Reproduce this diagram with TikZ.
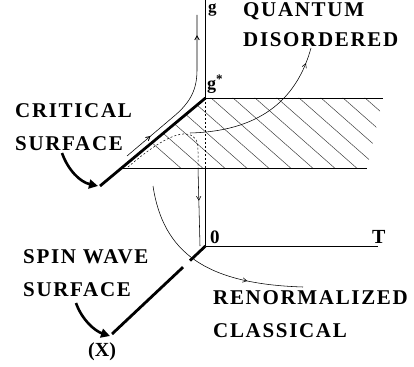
\documentclass[tikz,border=0pt]{standalone}
\usepackage{fontspec}
\setmainfont{Liberation Serif}
\newfontfamily\labfont{Liberation Serif}[LetterSpace=8]
\usetikzlibrary{arrows.meta,decorations.markings}
\tikzset{
  lab/.style={font=\labfont\bfseries\fontsize{21}{21}\selectfont, anchor=base west, inner sep=0pt},
  sym/.style={font=\bfseries\fontsize{#1}{#1}\selectfont, anchor=base west, inner sep=0pt},
  axisline/.style={line width=0.9pt},
  thickline/.style={line width=2.8pt},
  flow/.style={line width=0.55pt},
  hatchline/.style={line width=0.5pt, black!75},
  hidden/.style={line width=0.5pt, dash pattern=on 2pt off 2pt},
  bigarrow/.style={line width=2.6pt, -{Triangle[length=9pt,width=9pt]}},
  midarrow/.style={postaction={decorate}, decoration={markings,
      mark=at position #1 with {\arrow{Straight Barb[length=4pt,width=4.5pt]}}}}
}
\begin{document}
\begin{tikzpicture}[x=1pt,y=-1pt]
\useasboundingbox (0,0) rectangle (414,366);
% key points
\coordinate (gtop) at (205.5,0);
\coordinate (O) at (205.5,246);
\coordinate (Tend) at (378,246);
\coordinate (gs) at (205.5,98);
\coordinate (topR) at (383,98);
\coordinate (botR) at (367,168);
\coordinate (botL) at (121.6,168);
\coordinate (gmid) at (205.5,168);
\coordinate (C1) at (100,186);
\coordinate (Xend) at (112,334);
\coordinate (gapA) at (190,260.6);
\coordinate (gapB) at (183,267.2);
% hatching
\begin{scope}
  \clip (gs) -- (topR) -- (botR) -- (botL) -- cycle;
  \foreach \x in {92,114,...,400} {
    \draw[hatchline] (\x,90) -- ++(110,96.8);
  }
\end{scope}
\draw[axisline] (gs) -- (topR);
\draw[axisline] (botL) -- (botR);
% g axis
\draw[axisline] (gtop) -- (gs);
\draw[hidden] (gs) -- (gmid);
\draw[axisline] (gmid) -- (O);
\draw[axisline] (O) -- (Tend);
% thick lines
\draw[thickline] (gs) -- (C1);
\draw[thickline] (O) -- (gapA);
\draw[thickline] (gapB) -- (Xend);
% dashed flow + down flow
\coordinate (d0) at (128,167);
\coordinate (d1) at (198,168);
\coordinate (d2) at (200,246);
\draw[hidden] (d0) .. controls (150,148) and (172,133) .. (186,134)
   .. controls (196,135) and (198,141) .. (198,152) -- (d1);
\draw[flow, midarrow=0.42] (d1) -- (d2);
% up flow along critical line
\coordinate (u0) at (127,156);
\coordinate (u1) at (197,15);
\draw[flow, midarrow=0.18, midarrow=0.88] (u0) -- (176,114.5) .. controls (190,102) and (197,90) .. (197,70) -- (u1);
% quantum disordered flow
\coordinate (q0) at (190,133);
\coordinate (q1) at (311,48);
\draw[flow, midarrow=0.9] (q0) .. controls (265,131) and (298,95) .. (q1);
% renormalized classical flow
\coordinate (r0) at (153,186);
\coordinate (r1) at (303,287);
\draw[flow, midarrow=0.72] (r0) .. controls (163,252) and (205,284) .. (r1);
% big curved arrows
\coordinate (a0) at (62,153);
\coordinate (a1) at (98,186);
\draw[bigarrow] (a0) .. controls (68,170) and (80,182) .. (a1);
\coordinate (b0) at (76,303);
\coordinate (b1) at (110,336);
\draw[bigarrow] (b0) .. controls (82,320) and (95,331) .. (b1);
% labels
\node[sym=17, text height=8pt, text depth=4pt] (lg) at (208,13) {g};
\node[sym=18] (lgs) at (207,90) {g\raisebox{6pt}{\fontsize{13}{13}\selectfont *}};
\node[sym=19] (l0) at (210,243) {0};
\node[sym=20] (lT) at (372,243) {T};
\node[lab] (qa) at (243,17) {QUANTUM};
\node[lab] (qb) at (243,47) {DISORDERED};
\node[lab] (ca) at (15,118) {CRITICAL};
\node[lab] (cb) at (15,150) {SURFACE};
\node[lab] (sa) at (23,263) {SPIN WAVE};
\node[lab] (sb) at (23,296) {SURFACE};
\node[lab] (ra) at (213,304) {RENORMALIZED};
\node[lab] (rb) at (213,337) {CLASSICAL};
\node[sym=20] (lx) at (88,356) {(X)};
\end{tikzpicture}
\end{document}
